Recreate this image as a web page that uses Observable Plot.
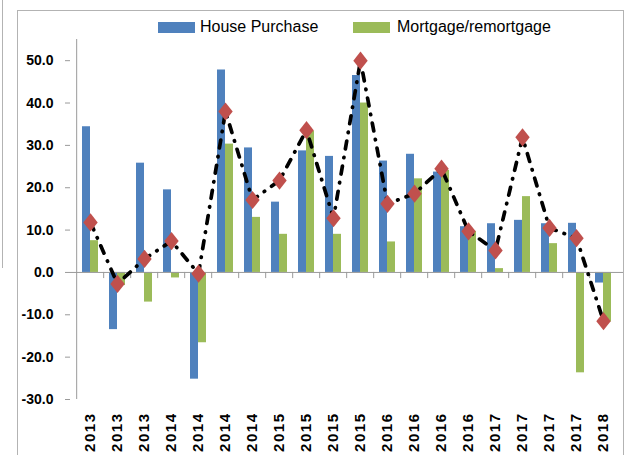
<!DOCTYPE html>
<html><head><meta charset="utf-8">
<script src="https://cdn.jsdelivr.net/npm/d3@7"></script>
<script src="https://cdn.jsdelivr.net/npm/@observablehq/plot@0.6"></script>
<style>
body{margin:0;background:#fff;}
#wrap{position:relative;width:629px;height:455px;overflow:hidden;font-family:"Liberation Sans",Arial,sans-serif;}
#frame{position:absolute;left:17px;top:10px;width:605px;height:470px;border:1px solid #b3b3b3;}
#remnant{position:absolute;left:2px;top:0;width:0;height:268px;border-left:1px solid #b3b3b3;}
.sw{position:absolute;top:22px;width:37px;height:11px;}
.lt{position:absolute;top:18px;font-size:16px;line-height:18px;color:#000;white-space:nowrap;}
#chart{position:absolute;left:0;top:0;}
#chart g[aria-label="x-axis tick label"]{letter-spacing:1.5px;}
</style></head>
<body>
<div id="wrap">
  <div id="remnant"></div>
  <div id="frame"></div>
  <div id="chart"></div>
  <div id="legend"></div>
</div>
<script>
const categories = ["2013","2013","2013","2014","2014","2014","2014","2015","2015","2015","2015","2016","2016","2016","2016","2017","2017","2017","2017","2018"];
const housePurchase = [34.4, -13.5, 25.8, 19.5, -25.2, 47.8, 29.4, 16.6, 28.7, 27.4, 46.5, 26.3, 27.9, 23.7, 10.8, 11.5, 12.3, 11.5, 11.6, -2.5];
const mortgage = [7.5, -3.1, -7.0, -1.3, -16.6, 30.3, 13.0, 9.0, 33.4, 9.0, 40.0, 7.2, 22.1, 24.1, 9.7, 0.9, 17.9, 6.8, -23.7, -11.7];
const total = [11.8, -2.7, 3.2, 7.4, -0.3, 38.0, 17.1, 21.7, 33.6, 12.8, 50.0, 16.2, 18.6, 24.5, 9.7, 5.2, 31.9, 10.5, 8.1, -11.5];
const yTicks = [-30, -20, -10, 0, 10, 20, 30, 40, 50];
const seriesNames = ["House Purchase", "Mortgage/remortgage"];
const seriesColors = ["#4F81BD", "#9BBB59"];

const n = categories.length;
const W = 629, H = 455, ML = 70, MR = 6, MT = 39, MB = 56;
const step = (W - ML - MR) / n;
const idx = d3.range(n);
const rows = idx.map(i => ({i, hp: housePurchase[i], mr: mortgage[i], tot: total[i]}));
const diamond = {draw(ctx) {
  ctx.moveTo(0, -9.1); ctx.lineTo(7.2, 0); ctx.lineTo(0, 9.1); ctx.lineTo(-7.2, 0); ctx.closePath();
}};
const grey = "#9a9a9a";

const chart = Plot.plot({
  width: W, height: H,
  marginLeft: ML, marginRight: MR, marginTop: MT, marginBottom: MB,
  style: {fontFamily: '"Liberation Sans", Arial, sans-serif', fontWeight: "bold", fontSize: "14px", color: "black", background: "transparent", overflow: "visible"},
  x: {type: "band", domain: idx, paddingInner: 0.711, paddingOuter: 0.3555, axis: null, label: null},
  y: {domain: [-30, 55], axis: null, label: null},
  marks: [
    Plot.barY(rows, {x: "i", y: "hp", fill: seriesColors[0], dx: -4}),
    Plot.barY(rows, {x: "i", y: "mr", fill: seriesColors[1], dx: 4}),
    Plot.ruleY([0], {stroke: grey}),
    Plot.ruleX(idx.slice(1), {x: d => d, dx: -step / 2, y1: 0, y2: -1.45, stroke: grey}),
    Plot.ruleX([0], {x: d => d, dx: -step / 2, y1: -30, y2: 55, stroke: grey}),
    Plot.axisY(yTicks, {anchor: "left", label: null, tickSize: 5, tickPadding: 12, tickFormat: d => d.toFixed(1), stroke: grey, fill: "black", fontSize: 14, fontWeight: "bold"}),
    Plot.axisX(idx, {anchor: "bottom", label: null, tickSize: 0, tickPadding: 13, tickRotate: -90, tickFormat: i => categories[i], fill: "black", fontSize: 15, fontWeight: "bold"}),
    Plot.line(rows, {x: "i", y: "tot", stroke: "black", strokeWidth: 3.7, strokeDasharray: "8,8.5,0.5,8.5", strokeLinecap: "round"}),
    Plot.dot(rows, {x: "i", y: "tot", symbol: diamond, r: 5, fill: "#C0504D", stroke: "none"})
  ]
});
document.getElementById("chart").appendChild(chart);

const legend = document.getElementById("legend");
const swX = [158, 353], txX = [200, 397];
seriesNames.forEach((name, k) => {
  const s = document.createElement("div");
  s.className = "sw"; s.style.left = swX[k] + "px"; s.style.background = seriesColors[k];
  legend.appendChild(s);
  const t = document.createElement("div");
  t.className = "lt"; t.style.left = txX[k] + "px"; t.textContent = name;
  legend.appendChild(t);
});
</script>
</body></html>
